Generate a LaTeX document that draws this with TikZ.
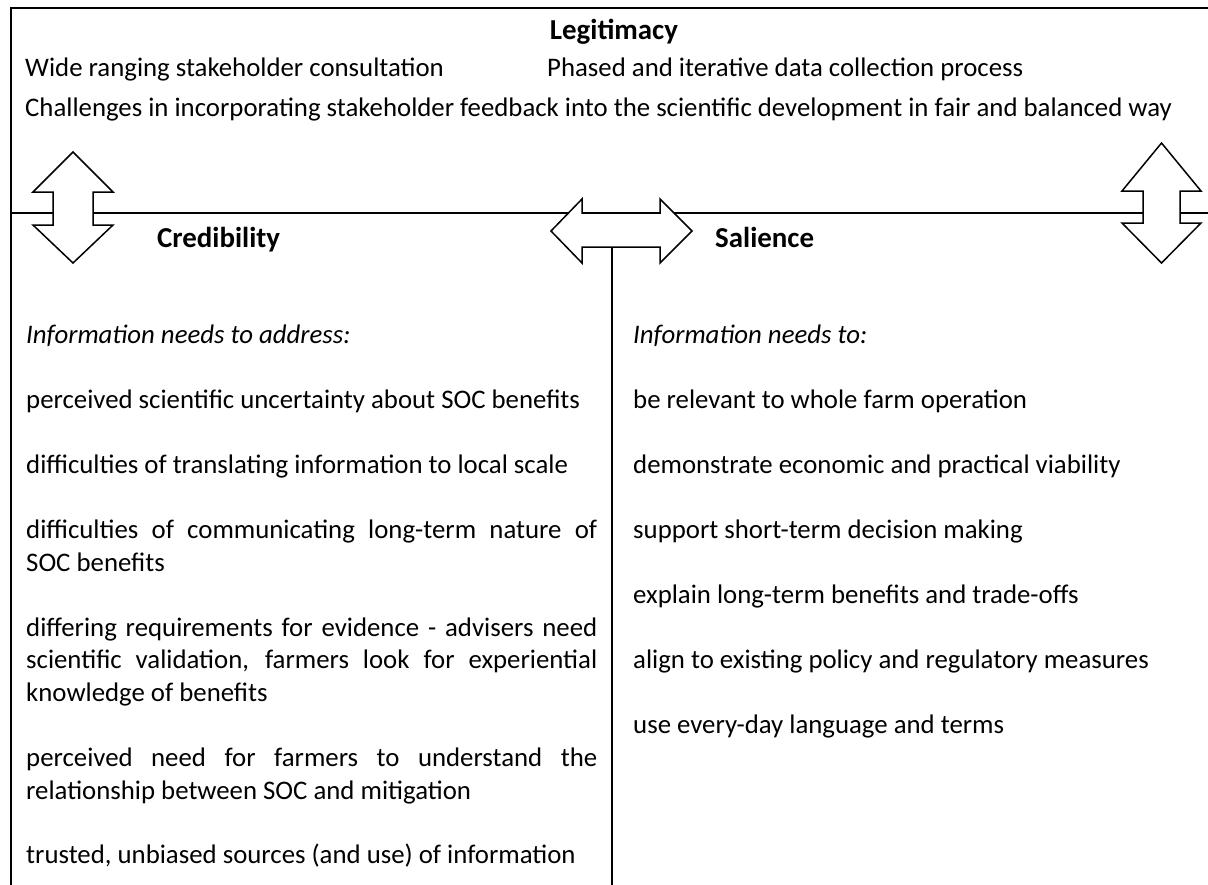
\documentclass[tikz,border=0pt]{standalone}
\usepackage{fontspec}
\setmainfont{Carlito}
\begin{document}
\begin{tikzpicture}[x=1pt,y=-1pt,
  frame/.style={line width=1.6pt, line cap=rect},
  arrowshape/.style={draw, fill=white, line width=1.5pt, line join=miter},
  txt/.style={anchor=base west, inner sep=0pt, font=\fontsize{26.8}{32.5}\selectfont},
  itxt/.style={txt, font=\fontsize{26.8}{32.5}\selectfont\itshape},
  head/.style={inner sep=0pt, font=\fontsize{28.9}{34}\selectfont\bfseries},
  para/.style={txt, text width=571pt, align=justify}
]
\useasboundingbox (0,0) rectangle (1208,884);
% frame lines
\draw[frame] (11,884) -- (11,8) -- (1208,8);
\draw[frame] (11,213) -- (1208,213);
\draw[frame] (612,247) -- (612,884);
% left vertical double arrow
\draw[arrowshape] (73,152) -- (113,192) -- (93,192) -- (93,225) -- (113,225) -- (73,263)
  -- (33,225) -- (53,225) -- (53,192) -- (33,192) -- cycle;
% right vertical double arrow
\draw[arrowshape] (1161.5,143) -- (1201,191) -- (1180,191) -- (1180,223) -- (1201,223) -- (1161.5,263)
  -- (1122,223) -- (1143,223) -- (1143,191) -- (1122,191) -- cycle;
% central horizontal double arrow
\draw[arrowshape] (551,231) -- (582,199) -- (582,213) -- (660,213) -- (660,199) -- (692,231)
  -- (660,263) -- (660,247) -- (582,247) -- (582,263) -- cycle;
% headings
\node[head, anchor=base] (legit) at (614,39) {Legitimacy};
\node[head, anchor=base west] (cred) at (157,247) {Credibility};
\node[head, anchor=base west] (sal) at (715,247) {Salience};
% top texts
\node[txt] (wide) at (25,76) {Wide ranging stakeholder consultation};
\node[txt] (phased) at (547,76) {Phased and iterative data collection process};
\node[txt] (chall) at (25,116) {Challenges in incorporating stakeholder feedback into the scientific development in fair and balanced way};
% left column
\node[itxt] (lhead) at (26,343) {Information needs to address:};
\node[txt] (l1) at (26,408) {perceived scientific uncertainty about SOC benefits};
\node[txt] (l2) at (26,473.5) {difficulties of translating information to local scale};
\node[para] (l3) at (26,538.5) {difficulties of communicating long-term nature of\linebreak SOC benefits};
\node[para] (l4) at (26,636) {differing requirements for evidence - advisers need\linebreak scientific validation, farmers look for experiential\linebreak knowledge of benefits};
\node[para] (l5) at (26,766.5) {perceived need for farmers to understand the\linebreak relationship between SOC and mitigation};
\node[txt] (l6) at (26,863) {trusted, unbiased sources (and use) of information};
% right column
\node[itxt] (rhead) at (633,343) {Information needs to:};
\node[txt] (r1) at (633,408) {be relevant to whole farm operation};
\node[txt] (r2) at (633,473.5) {demonstrate economic and practical viability};
\node[txt] (r3) at (633,538.5) {support short-term decision making};
\node[txt] (r4) at (633,603.5) {explain long-term benefits and trade-offs};
\node[txt] (r5) at (633,668.5) {align to existing policy and regulatory measures};
\node[txt] (r6) at (633,733.5) {use every-day language and terms};
\end{tikzpicture}
\end{document}
